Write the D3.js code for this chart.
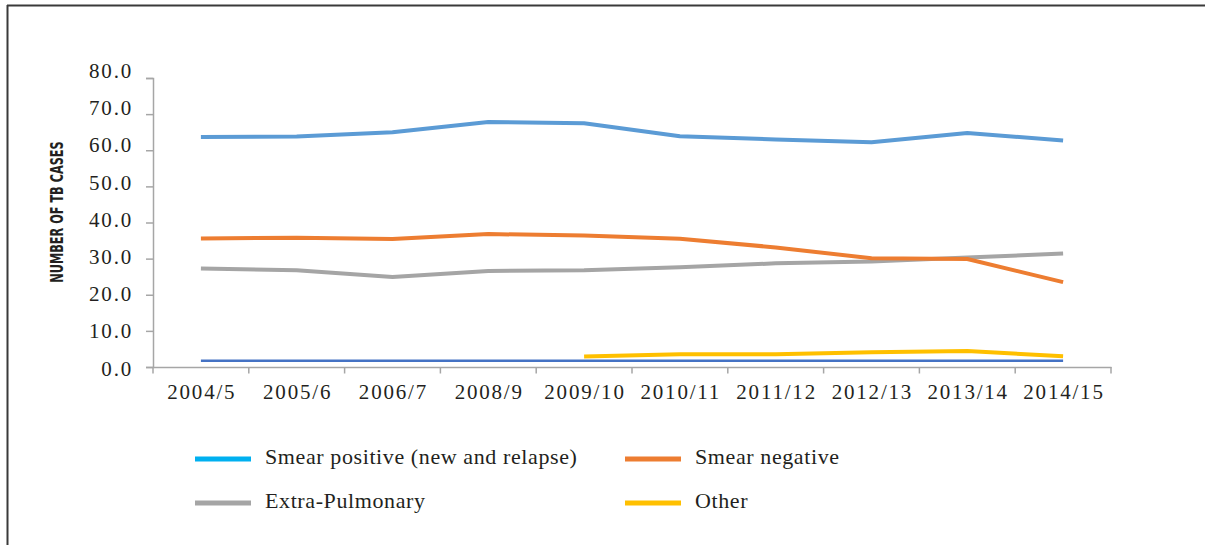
<!DOCTYPE html>
<html>
<head>
<meta charset="utf-8">
<script src="https://cdn.jsdelivr.net/npm/d3@7"></script>
<style>
  html, body { margin: 0; padding: 0; background: #fff; }
  svg { display: block; }
</style>
</head>
<body>
<svg id="chart" width="1205" height="545"></svg>
<script>
// Financial years on the category axis
const years = ["2004/5", "2005/6", "2006/7", "2008/9", "2009/10", "2010/11", "2011/12", "2012/13", "2013/14", "2014/15"];

// Share of TB cases by type (null = not reported)
const smearPositive = [63.7, 63.8, 65.0, 67.8, 67.5, 63.9, 63.0, 62.2, 64.8, 62.7];
const smearNegative = [35.6, 35.8, 35.4, 36.8, 36.4, 35.5, 33.1, 30.1, 29.9, 23.5];
const extraPulmonary = [27.3, 26.8, 24.9, 26.6, 26.8, 27.6, 28.7, 29.2, 30.3, 31.4];
const other = [null, null, null, null, 2.9, 3.5, 3.5, 4.1, 4.4, 3.0];
const baseline = [1.7, 1.7, 1.7, 1.7, 1.7, 1.7, 1.7, 1.7, 1.7, 1.7];

const yTicks = [0, 10, 20, 30, 40, 50, 60, 70, 80];

const legendItems = [
  { label: "Smear positive (new and relapse)", color: "#00b0f0" },
  { label: "Smear negative", color: "#ed7d31" },
  { label: "Extra-Pulmonary", color: "#a5a5a5" },
  { label: "Other", color: "#ffc000" }
];

const series = [
  { values: baseline, color: "#4472c4", width: 2.5 },
  { values: extraPulmonary, color: "#a5a5a5", width: 4 },
  { values: smearNegative, color: "#ed7d31", width: 4 },
  { values: smearPositive, color: "#5b9bd5", width: 4 },
  { values: other, color: "#ffc000", width: 4 }
];

const svg = d3.select("#chart");

// Frame lines on the top and left edges
svg.append("line").attr("x1", 7).attr("y1", 5.5).attr("x2", 1205).attr("y2", 5.5)
  .attr("stroke", "#3a3a3a").attr("stroke-width", 2);
svg.append("line").attr("x1", 7.5).attr("y1", 5).attr("x2", 7.5).attr("y2", 545)
  .attr("stroke", "#3a3a3a").attr("stroke-width", 2);

const plot = { left: 153, right: 1111, top: 78, bottom: 367 };

const x = d3.scaleBand().domain(years).range([plot.left, plot.right]);
const y = d3.scaleLinear().domain([0, 80]).range([plot.bottom, plot.top]);
// Tick labels sit on a slightly wider spacing than the tick marks
const yLabel = d3.scaleLinear().domain([0, 80]).range([375, 77.5]);

const tickFont = "'Liberation Serif', 'Times New Roman', serif";

// Y axis
const yAxis = svg.append("g")
  .attr("transform", `translate(${plot.left},0)`)
  .call(d3.axisLeft(y).tickValues(yTicks).tickFormat(d3.format(".1f")).tickSizeOuter(0).tickSize(7).tickPadding(13));
yAxis.select(".domain").attr("stroke", "#a6a6a6").attr("stroke-width", 1.5);
yAxis.selectAll(".tick line").attr("stroke", "#a6a6a6").attr("stroke-width", 1.5);
yAxis.selectAll(".tick text").attr("fill", "#231f20")
  .style("font-family", tickFont).style("font-size", "21px").style("letter-spacing", "1.8px")
  .attr("dy", null)
  .attr("y", d => yLabel(d) - y(d));

// X axis with ticks on the band edges
const xAxis = svg.append("g")
  .attr("transform", `translate(0,${plot.bottom})`)
  .call(d3.axisBottom(x).tickSize(0).tickPadding(17));
xAxis.select(".domain").attr("stroke", "#a6a6a6").attr("stroke-width", 1.5);
xAxis.selectAll(".tick text").attr("fill", "#231f20")
  .style("font-family", tickFont).style("font-size", "21px").style("letter-spacing", "1.8px")
  .attr("dx", "0.9px");
const edges = years.map(d => x(d)).concat([x.range()[1]]);
svg.append("g").selectAll("line").data(edges).join("line")
  .attr("x1", d => d).attr("x2", d => d)
  .attr("y1", plot.bottom).attr("y2", plot.bottom + 6.5)
  .attr("stroke", "#a6a6a6").attr("stroke-width", 1.5);

// Axis title, condensed
svg.append("text")
  .attr("transform", `translate(63,212) rotate(-90) scale(0.74,1)`)
  .attr("text-anchor", "middle")
  .style("font-family", "'Liberation Sans Narrow', 'DejaVu Sans Condensed', sans-serif")
  .style("font-weight", "bold")
  .style("font-size", "17px")
  .attr("fill", "#231f20")
  .text("NUMBER OF TB CASES");

// Series lines
const line = d3.line()
  .defined(d => d != null)
  .x((d, i) => x(years[i]) + x.bandwidth() / 2)
  .y(d => y(d));

svg.append("g").selectAll("path").data(series).join("path")
  .attr("d", s => line(s.values))
  .attr("fill", "none")
  .attr("stroke", s => s.color)
  .attr("stroke-width", s => s.width)
  .attr("stroke-linejoin", "round");

// Legend in two columns
const legend = svg.append("g");
const cols = [195, 625];
const rows = [459, 503];
legendItems.forEach((item, i) => {
  const lx = cols[i % 2], ly = rows[Math.floor(i / 2)];
  legend.append("line")
    .attr("x1", lx).attr("x2", lx + 56).attr("y1", ly).attr("y2", ly)
    .attr("stroke", item.color).attr("stroke-width", 5);
  legend.append("text")
    .attr("x", lx + 70).attr("y", ly + 5)
    .style("font-family", "'Liberation Serif', serif")
    .style("font-size", "22px")
    .style("letter-spacing", "0.6px")
    .attr("fill", "#231f20")
    .text(item.label);
});
</script>
</body>
</html>
